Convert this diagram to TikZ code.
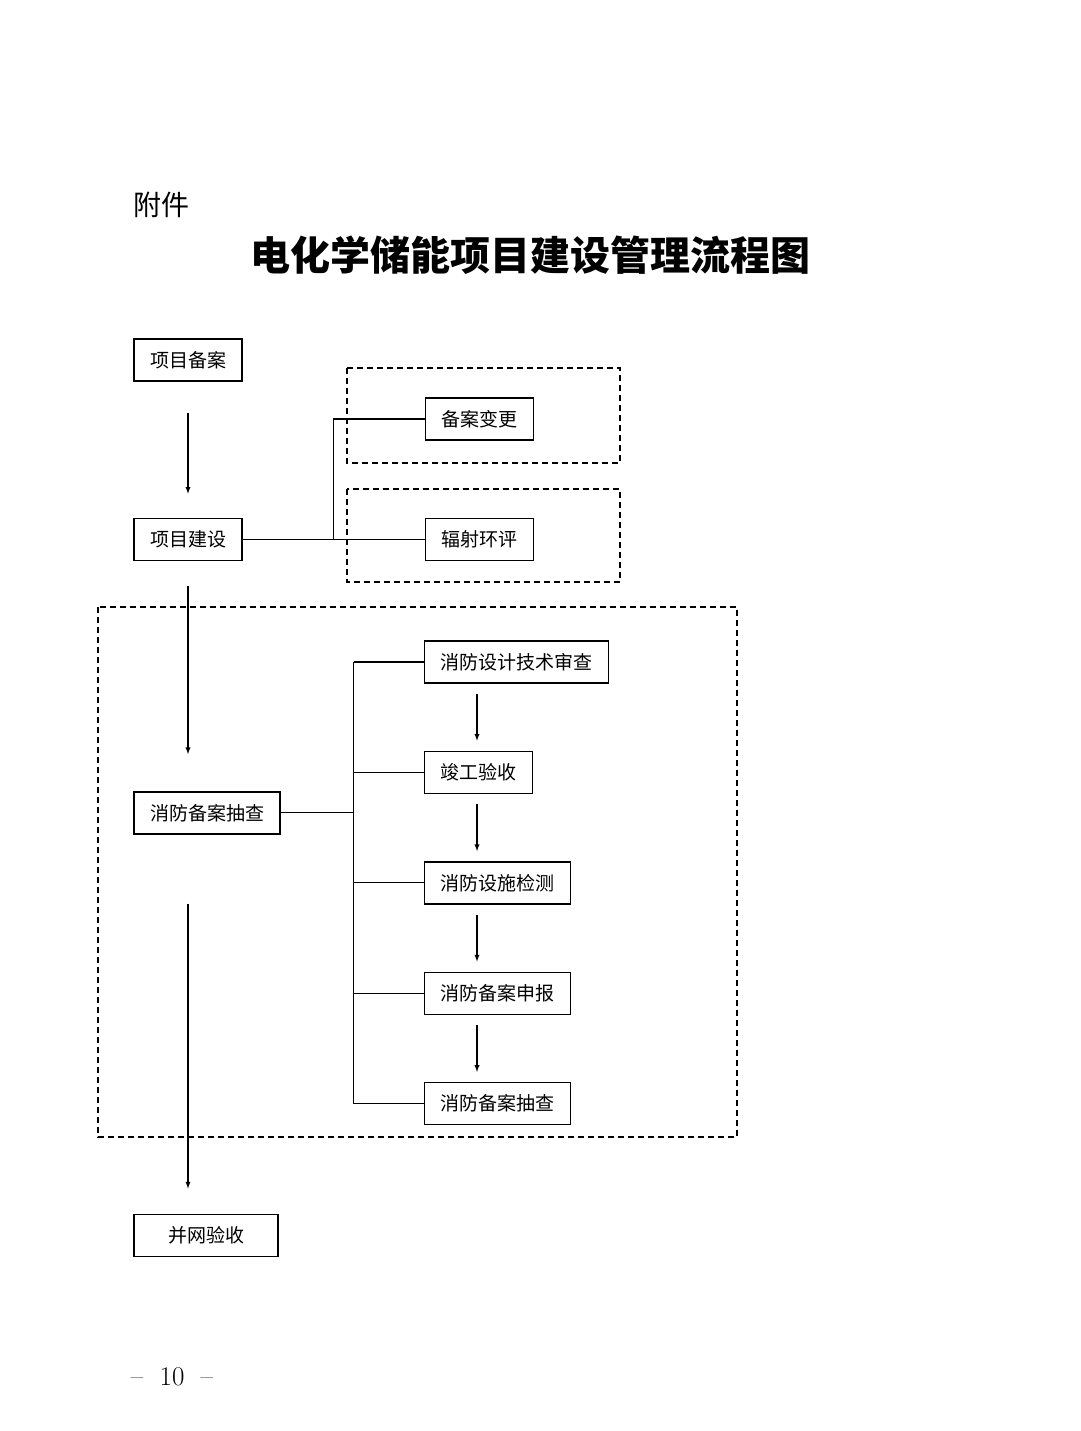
\documentclass[tikz,border=0pt]{standalone}
\usepackage{fontspec}
\newfontfamily\cjk{Noto Sans CJK SC}
\usetikzlibrary{positioning,arrows}

\begin{document}
\begin{tikzpicture}[
	x=1pt,y=-1pt,
	node distance=1cm and 1.5cm,
	mybox/.style={draw,line width=1.4pt,minimum height=42pt,inner xsep=16pt,font=\cjk\fontsize{19}{19}\selectfont},
	mygroup/.style={draw,dash pattern=on 6pt off 4pt,line width=1.3pt},
	myline/.style={line width=1.3pt}
	]
	\fill[white] (0,0) rectangle (1080,1431);
	\useasboundingbox (0,0) rectangle (1080,1431);
	% heading
	\node[anchor=west,inner sep=0pt,font=\cjk\fontsize{28}{28}\selectfont] (annex) at (133,205) {附件};
	\node[inner sep=0pt,font=\cjk\bfseries\fontsize{40}{40}\selectfont] (title) at (530,255) {电化学储能项目建设管理流程图};
	% main column
	\node[mybox] (filing) at (188,360) {项目备案};
	\node[mybox,below=136pt of filing] (build) {项目建设};
	\node[mybox,right=182pt of build] (eia) {辐射环评};
	\node[mybox,above=77pt of eia.north west,anchor=south west] (change) {备案变更};
	\node[mybox,below=230pt of build.south west,anchor=north west] (firecheck) {消防备案抽查};
	\node[mybox,minimum width=144pt,below=379pt of firecheck.south west,anchor=north west] (grid) {并网验收};
	% fire column
	\node[mybox,anchor=west] (design) at (424,662) {消防设计技术审查};
	\node[mybox,below=67pt of design.south west,anchor=north west] (accept) {竣工验收};
	\node[mybox,below=67pt of accept.south west,anchor=north west] (detect) {消防设施检测};
	\node[mybox,below=67pt of detect.south west,anchor=north west] (report) {消防备案申报};
	\node[mybox,below=67pt of report.south west,anchor=north west] (audit) {消防备案抽查};
	% dashed groups
	\draw[mygroup] (347,368) rectangle (620,463);
	\draw[mygroup] (347,489) rectangle (620,582);
	\draw[mygroup] (98,607) rectangle (737,1137);
	% branches
	\coordinate[right=91pt of build] (fork1);
	\coordinate[right=73pt of firecheck] (fork2);
	\coordinate[right=53pt of design.west] (spine);
	\draw[myline] (build) -- (eia);
	\draw[myline] (change) -| (fork1);
	\draw[myline] (firecheck) -- (fork2);
	\draw[myline] (fork2 |- design) -- (fork2 |- audit);
	\foreach \n in {design,accept,detect,report,audit}
		\draw[myline] (fork2 |- \n) -- (\n);
	% arrows
	\draw[myline,-latex,shorten <=31pt,shorten >=24pt] (filing) -- (build);
	\draw[myline,-latex,shorten <=25pt,shorten >=37pt] (build.south) -- (build.south |- firecheck.north);
	\draw[myline,-latex,shorten <=69pt,shorten >=25pt] (build.south |- firecheck.south) -- (build.south |- grid.north);
	\foreach \a/\b in {design/accept,accept/detect,detect/report,report/audit}
		\draw[myline,-latex,shorten <=10pt,shorten >=10pt] (spine |- \a.south) -- (spine |- \b.north);
	% page number
	\node[inner sep=0pt,font=\fontsize{27}{27}\selectfont] (page) at (172,1377) {–\ \ 10\ \ –};
\end{tikzpicture}
\end{document}
